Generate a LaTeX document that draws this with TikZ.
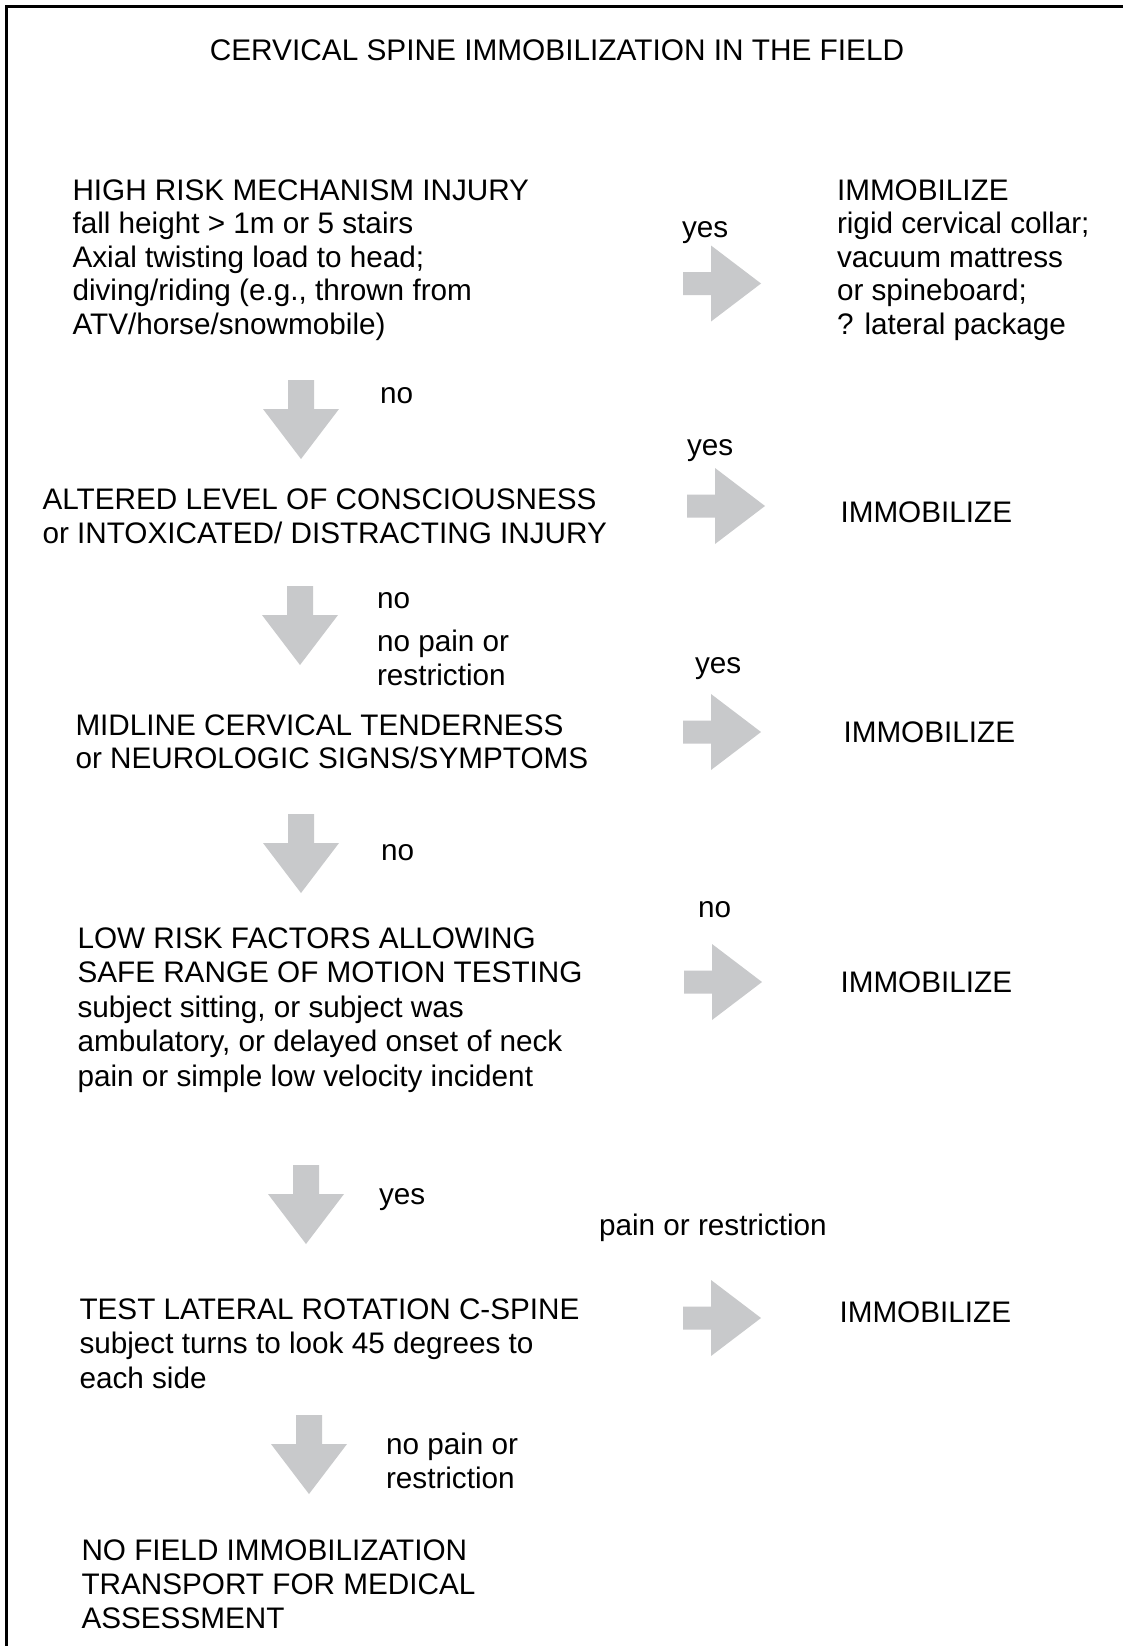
\documentclass[tikz,border=0pt]{standalone}
\usepackage{fontspec}
\setmainfont{Liberation Sans}
\definecolor{arrowgray}{RGB}{200,201,203}
\newcommand\firststrut{\rule{0pt}{25pt}}
\tikzset{
  txt/.style={inner sep=0pt, outer sep=0pt, align=left, anchor=north west},
  lbl/.style={inner sep=0pt, outer sep=0pt, anchor=base west, font=\fontsize{29.7}{34}\selectfont},
  rarrow/.pic={\fill[arrowgray] (0,-11.5) -- (28,-11.5) -- (28,-38) -- (78,0) -- (28,38) -- (28,11.5) -- (0,11.5) -- cycle;},
  darrow/.pic={\fill[arrowgray] (-13,0) -- (13,0) -- (13,29) -- (38,29) -- (0,79) -- (-38,29) -- (-13,29) -- cycle;},
}
\begin{document}
\begin{tikzpicture}[x=1pt,y=-1pt]
\useasboundingbox (0,0) rectangle (1123,1646);
\fill[white] (0,0) rectangle (1123,1646);
\draw[line width=3.2pt] (6.6,1660) -- (6.6,6.6) -- (1135,6.6);

\node[inner sep=0pt, anchor=base, font=\fontsize{29.8}{34}\selectfont] (title) at (557,61) {CERVICAL SPINE IMMOBILIZATION IN THE FIELD};

% step 1
\node[txt, font=\fontsize{29.7}{33.6}\selectfont] (q1) at (72.5,175) {\firststrut HIGH RISK MECHANISM INJURY\\fall height > 1m or 5 stairs\\Axial twisting load to head;\\diving/riding (e.g., thrown from\\ATV/horse/snowmobile)};
\node[txt, font=\fontsize{29.7}{33.6}\selectfont] (r1) at (837,175) {\firststrut IMMOBILIZE\\rigid cervical collar;\\vacuum mattress\\or spineboard;\\? lateral package};
\node[lbl] (y1) at (682,237) {yes};
\pic (ra1) at (683,283.5) {rarrow};
\pic (da1) at (301,380) {darrow};
\node[lbl] (n1) at (380,403) {no};

% step 2
\node[lbl] (y2) at (687,455) {yes};
\node[txt, font=\fontsize{29.7}{34}\selectfont] (q2) at (42.5,484) {\firststrut ALTERED LEVEL OF CONSCIOUSNESS\\or INTOXICATED/ DISTRACTING INJURY};
\pic (ra2) at (687,506) {rarrow};
\node[lbl] (r2) at (840.5,522) {IMMOBILIZE};
\pic (da2) at (300,586) {darrow};
\node[lbl] (n2) at (377,608) {no};
\node[txt, font=\fontsize{29.7}{34}\selectfont] (np1) at (377,626) {\firststrut no pain or\\restriction};

% step 3
\node[lbl] (y3) at (695,673) {yes};
\node[txt, font=\fontsize{29.7}{33.5}\selectfont] (q3) at (75.5,710) {\firststrut MIDLINE CERVICAL TENDERNESS\\or NEUROLOGIC SIGNS/SYMPTOMS};
\pic (ra3) at (683,732) {rarrow};
\node[lbl] (r3) at (843.5,742) {IMMOBILIZE};
\pic (da3) at (301,814) {darrow};
\node[lbl] (n3) at (381,860) {no};

% step 4
\node[lbl] (n4) at (698,917) {no};
\node[txt, font=\fontsize{29.7}{34.5}\selectfont] (q4) at (77.5,923) {\firststrut LOW RISK FACTORS ALLOWING\\SAFE RANGE OF MOTION TESTING\\subject sitting, or subject was\\ambulatory, or delayed onset of neck\\pain or simple low velocity incident};
\pic (ra4) at (684,982) {rarrow};
\node[lbl] (r4) at (840.5,992) {IMMOBILIZE};
\pic (da4) at (306,1165) {darrow};
\node[lbl] (y4) at (379,1204) {yes};
\node[lbl] (pr) at (599,1235) {pain or restriction};

% step 5
\node[txt, font=\fontsize{29.7}{34.5}\selectfont] (q5) at (79.5,1294) {\firststrut TEST LATERAL ROTATION C-SPINE\\subject turns to look 45 degrees to\\each side};
\pic (ra5) at (683,1318) {rarrow};
\node[lbl] (r5) at (839.5,1322) {IMMOBILIZE};
\pic (da5) at (309,1415) {darrow};
\node[txt, font=\fontsize{29.7}{33.5}\selectfont] (np2) at (386,1429.5) {\firststrut no pain or\\restriction};

% result
\node[txt, font=\fontsize{29.7}{34}\selectfont] (q6) at (81.5,1535) {\firststrut NO FIELD IMMOBILIZATION\\TRANSPORT FOR MEDICAL\\ASSESSMENT};
\end{tikzpicture}
\end{document}
